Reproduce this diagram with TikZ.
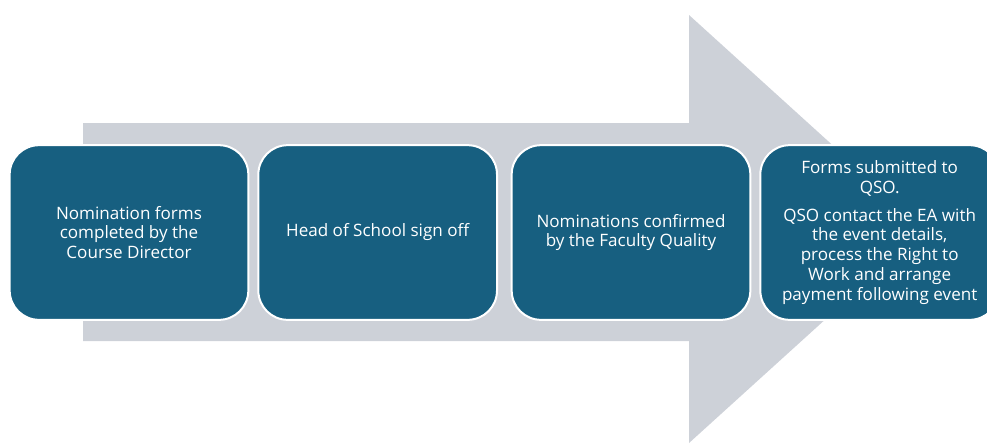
\documentclass[tikz,border=0pt]{standalone}
\usepackage{fontspec}
\setmainfont{Open Sans}
\usepackage{tikz}
\usetikzlibrary{positioning}
\definecolor{stagefill}{HTML}{175F80}
\definecolor{arrowgrey}{HTML}{CDD1D8}
\tikzstyle{stage} = [rectangle, rounded corners=22pt, minimum width=179pt, minimum height=131pt, inner sep=0pt, align=center, draw=white, line width=1.5pt, fill=stagefill, text=white, font=\fontsize{12.8}{14.8}\selectfont]

\begin{document}
\begin{tikzpicture}[x=0.75pt, y=-0.75pt]
    \useasboundingbox (0,0) rectangle (987,444);
    \clip (0,0) rectangle (987,444);
    % Large arrow
    \fill[arrowgrey] (83,123) -- (689,123) -- (689,15) -- (925,229) -- (689,443) -- (689,341) -- (83,341) -- cycle;

    % Stage boxes
    \node (nominate) [stage] at (129,232.5) {Nomination forms\\ completed by the\\ Course Director};
    \node (signoff) [stage, right=6pt of nominate] {Head of School sign off};
    \node (confirm) [stage, right=9.5pt of signoff] {Nominations confirmed\\ by the Faculty Quality};
    \node (submit) [stage, right=6pt of confirm] {Forms submitted to\\ QSO.\\[6pt] QSO contact the EA with\\ the event details,\\ process the Right to\\ Work and arrange\\ payment following event};
\end{tikzpicture}
\end{document}
